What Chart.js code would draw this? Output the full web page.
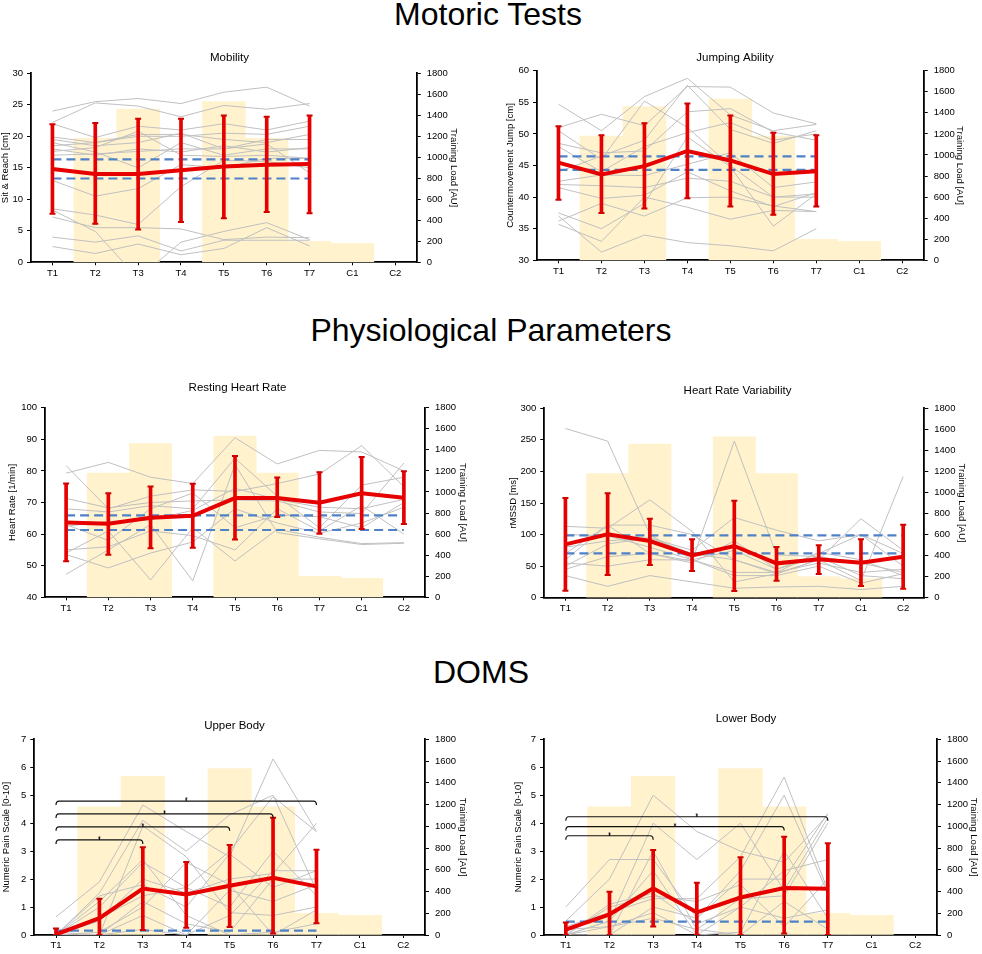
<!DOCTYPE html>
<html lang="en">
<head>
<meta charset="utf-8" />
<title>Motoric tests, physiological parameters and DOMS</title>
<script src="https://cdn.jsdelivr.net/npm/chart.js@4.4.1/dist/chart.umd.min.js"></script>
<style>
  html, body { margin: 0; padding: 0; background: #fff; }
  body { width: 982px; height: 954px; position: relative; overflow: hidden;
         font-family: "Liberation Sans", Arial, sans-serif; }
  .section { position: absolute; font-size: 32px; line-height: 32px; color: #000;
             white-space: nowrap; transform: translateX(-50%); }
  canvas { position: absolute; }
</style>
</head>
<body>
<div class="section" style="left:488px; top:-2px">Motoric Tests</div>
<div class="section" style="left:491px; top:314px">Physiological Parameters</div>
<div class="section" style="left:481px; top:656px">DOMS</div>

<canvas id="mobility"></canvas>
<canvas id="jumping"></canvas>
<canvas id="restingHr"></canvas>
<canvas id="hrv"></canvas>
<canvas id="upperBody"></canvas>
<canvas id="lowerBody"></canvas>

<script>
const labels = ["T1", "T2", "T3", "T4", "T5", "T6", "T7", "C1", "C2"];
const trainingLoad = [null, 1180, 1460, null, 1530, 1180, 200, 180, null];

// Mobility (sit & reach)
const mobMean = [14.8, 14.0, 14.0, 14.6, 15.2, 15.5, 15.6];
const mobHigh = [21.9, 22.1, 22.8, 22.8, 23.3, 23.1, 23.3];
const mobLow = [7.7, 6.1, 5.2, 6.4, 7.0, 8.0, 7.8];
const mobBand = [16.35, 13.3];
const mobSubjects = [
  [24.0, 25.5, 26.0, 25.2, 27.0, 27.8, 24.8],
  [22.2, 25.3, 24.8, 23.1, 24.9, 24.3, 25.2],
  [22.0, 19.8, 21.6, 21.0, 22.0, 21.0, 22.4],
  [19.9, 19.0, 20.0, 20.0, 20.5, 20.3, 21.6],
  [19.5, 18.5, 19.0, 20.5, 18.0, 19.5, 19.5],
  [19.0, 17.5, 15.0, 19.0, 17.0, 18.0, 18.0],
  [18.5, 19.0, 20.3, 20.3, 19.5, 19.0, 20.3],
  [18.0, 17.0, 18.0, 17.5, 18.5, 17.5, 18.2],
  [17.6, 18.2, 20.8, 17.0, 16.8, 17.0, 16.5],
  [17.0, 17.2, 17.6, 18.0, 18.0, 18.8, 14.2],
  [13.0, 10.5, 11.7, 15.5, 15.0, 16.5, 16.5],
  [8.5, 7.5, 6.0, 12.0, 16.2, 16.0, 15.0],
  [8.3, 4.9, -2.6, 3.2, 4.9, 6.3, 3.6],
  [7.2, 5.5, 5.5, 5.3, 3.6, 4.0, 3.9],
  [4.0, 3.2, 4.2, 1.8, 3.5, 3.5, 3.5],
  [2.5, 1.4, 2.9, 1.2, 2.2, 5.5, 2.6]
];

// Jumping ability (countermovement jump)
const jumpMean = [45.45, 43.6, 44.9, 47.3, 45.8, 43.65, 44.1];
const jumpHigh = [51.2, 49.8, 51.7, 54.8, 52.9, 50.2, 49.8];
const jumpLow = [39.6, 37.5, 38.2, 39.8, 38.5, 37.2, 38.5];
const jumpBand = [46.45, 44.3];
const jumpSubjects = [
  [54.7, 50.5, 55.9, 58.8, 53.0, 50.5, 51.5],
  [51.0, 53.1, 51.3, 57.5, 57.4, 53.3, 51.6],
  [50.5, 46.0, 55.2, 51.0, 45.0, 40.0, 40.5],
  [48.5, 47.0, 47.3, 53.5, 54.0, 50.3, 49.0],
  [48.0, 44.0, 48.0, 50.2, 51.8, 49.0, 50.0],
  [44.0, 46.5, 49.0, 57.7, 50.7, 48.5, 50.5],
  [42.5, 43.5, 43.4, 45.2, 47.0, 41.5, 42.4],
  [42.0, 41.8, 41.5, 43.0, 42.5, 40.0, 40.0],
  [41.5, 39.8, 40.3, 44.0, 41.0, 38.5, 40.7],
  [37.5, 35.0, 39.0, 49.5, 44.8, 35.4, 40.5],
  [36.2, 39.0, 37.0, 39.9, 40.0, 38.6, 37.7],
  [35.7, 33.0, 40.0, 38.4, 36.5, 37.9, 37.7],
  [37.0, 31.3, 34.0, 32.8, 32.3, 31.5, 35.0]
];

// Resting heart rate
const hrMean = [63.7, 63.3, 65.2, 65.8, 71.4, 71.4, 69.9, 72.9, 71.5];
const hrHigh = [76.0, 72.9, 75.1, 75.9, 84.7, 77.9, 79.6, 84.4, 79.9];
const hrLow = [51.4, 53.5, 55.5, 55.7, 58.3, 65.4, 60.1, 61.6, 63.2];
const hrBand = [65.9, 61.3];
const hrSubjects = [
  [79.3, 82.7, 78.0, 76.0, 90.5, 82.2, 86.5, 86.0, 80.0],
  [81.7, 68.0, 72.0, 74.0, 73.5, 76.0, 79.0, 88.0, 75.0],
  [71.3, 68.3, 70.0, 70.5, 70.8, 70.5, 67.0, 66.5, 82.5],
  [68.0, 67.0, 69.0, 68.0, 84.0, 72.0, 62.0, 75.5, 78.0],
  [62.5, 64.0, 64.5, 67.5, 74.5, 71.0, 68.5, 68.0, 71.0],
  [55.0, 56.0, 61.0, 59.5, 55.0, 68.0, 61.0, 69.0, 60.0],
  [54.0, 61.0, 45.5, 62.0, 51.5, 61.5, 59.0, 57.0, 57.3],
  [53.5, 49.3, 54.0, 57.5, 68.0, 63.5, 60.3, 63.5, 68.5],
  [47.3, 55.0, 63.0, 45.2, 82.0, 60.5, 58.5, 56.7, 57.1],
  [63.0, 58.0, 68.0, 73.0, 62.0, 66.0, 65.5, 62.0, 70.0]
];

// Heart rate variability (rMSSD)
const hrvMean = [84.5, 100.4, 89.8, 67.0, 81.9, 54.4, 60.7, 55.5, 65.0];
const hrvHigh = [158, 165.3, 125.2, 92.4, 153.7, 80.3, 83, 92.4, 115.7];
const hrvLow = [11.1, 35.9, 51.8, 42.3, 10.6, 26.9, 37.5, 18.5, 14.3];
const hrvBand = [98.8, 70.3];
const hrvSubjects = [
  [268, 248, 100, 60, 40, 40, 55, 40, 45],
  [35, 18, 35, 25, 15, 17, 18, 13, 18],
  [113, 110, 155, 105, 25, 38, 60, 125, 75],
  [70, 115, 70, 58, 248, 68, 65, 55, 40],
  [60, 115, 115, 100, 60, 38, 60, 27, 192],
  [50, 85, 95, 75, 127, 107, 90, 100, 70],
  [45, 65, 70, 55, 90, 45, 65, 35, 30],
  [80, 90, 95, 70, 60, 40, 72, 60, 35],
  [100, 98, 80, 60, 75, 45, 70, 100, 50],
  [55, 50, 60, 60, 35, 35, 50, 23, 38]
];

// DOMS upper body
const upMean = [0.02, 0.6, 1.66, 1.45, 1.76, 2.05, 1.74];
const upHigh = [0.23, 1.3, 3.14, 2.61, 3.22, 4.19, 3.05];
const upLow = [0, 0, 0.18, 0.26, 0.29, 0.05, 0.42];
const upBand = [0.155];
const upBrackets = [
  { from: "T1", to: "T3", level: 3.4 },
  { from: "T1", to: "T5", level: 3.87 },
  { from: "T1", to: "T6", level: 4.33 },
  { from: "T1", to: "T7", level: 4.79 }
];
const upSubjects = [
  [0.65, 1.9, 4.65, 3.7, 2.8, 6.3, 3.7],
  [0, 1.5, 4.1, 3.0, 4.3, 5.0, 1.6],
  [0, 1.0, 2.6, 1.7, 3.0, 4.95, 3.7],
  [0, 0.5, 2.0, 1.5, 2.0, 2.2, 4.0],
  [0, 1.4, 1.8, 1.0, 2.9, 1.7, 2.3],
  [0, 0, 3.9, 2.8, 0.8, 0.7, 1.0],
  [0, 0.6, 1.4, 1.7, 1.0, 3.0, 1.4],
  [0, 0, 0.7, 0, 0.7, 2.3, 2.3],
  [0, 1.2, 2.7, 0.7, 0, 0.1, 0.4],
  [0, 0.1, 1.0, 2.6, 1.8, 0, 0.9],
  [0, 0, 0.2, 0, 1.6, 1.2, 1.8],
  [0.1, 0, 1.2, 0.4, 0.1, 2.0, 2.0]
];

// DOMS lower body
const lowMean = [0.19, 0.74, 1.67, 0.81, 1.34, 1.68, 1.65];
const lowHigh = [0.45, 1.55, 3.04, 1.87, 2.78, 3.51, 3.28];
const lowLow = [0, 0, 0.3, 0, 0, 0.05, 0];
const lowBand = [0.48];
const lowBrackets = [
  { from: "T1", to: "T3", level: 3.55 },
  { from: "T1", to: "T6", level: 3.88 },
  { from: "T1", to: "T7", level: 4.23 }
];
const lowSubjects = [
  [1.0, 2.7, 2.7, 0.6, 2.3, 5.0, 1.5],
  [0.5, 2.0, 5.0, 3.7, 3.0, 2.6, 4.3],
  [0, 0.5, 4.0, 2.7, 4.0, 1.6, 4.2],
  [0, 1.1, 1.5, 0.4, 1.0, 2.3, 2.7],
  [0.3, 0.8, 1.3, 1.3, 2.8, 5.65, 1.6],
  [0, 0, 1.0, 0.6, 2.0, 2.0, 4.35],
  [0, 0.5, 2.3, 0, 0.1, 3.0, 0.6],
  [0, 1.0, 1.4, 1.2, 1.8, 0.3, 2.0],
  [0.2, 0.3, 0.8, 0, 1.0, 0.6, 0.9],
  [0, 0.3, 0.6, 0.2, 0, 1.2, 0.2],
  [0, 0, 3.0, 0.2, 1.3, 1.4, 4.0]
];

const RED = "#e60000";
const BLUE = "#4f81c7";
const GREY = "#c0c0c0";
const LOAD = "#fff2cc";
const FONT = '"Liberation Sans", Arial, sans-serif';

Chart.defaults.font.family = FONT;
Chart.defaults.color = "#000";

// significance brackets (T1 vs later time point) with an asterisk on top
const bracketPlugin = {
  id: "brackets",
  afterDatasetsDraw(chart, args, opts) {
    const items = opts.items || [];
    if (!items.length) return;
    const { ctx, scales: { x, y } } = chart;
    ctx.save();
    ctx.strokeStyle = "#111";
    ctx.fillStyle = "#111";
    ctx.lineWidth = 1.2;
    ctx.font = "8px " + FONT;
    ctx.textAlign = "center";
    ctx.textBaseline = "alphabetic";
    items.forEach(b => {
      const x1 = x.getPixelForValue(labels.indexOf(b.from));
      const x2 = x.getPixelForValue(labels.indexOf(b.to));
      const yy = y.getPixelForValue(b.level);
      const mid = (x1 + x2) / 2;
      ctx.beginPath();
      ctx.moveTo(x1, yy + 4);
      ctx.quadraticCurveTo(x1, yy, x1 + 3, yy);
      ctx.lineTo(x2 - 3, yy);
      ctx.quadraticCurveTo(x2, yy, x2, yy + 4);
      ctx.moveTo(mid, yy);
      ctx.lineTo(mid, yy - 2);
      ctx.stroke();
      ctx.fillText("*", mid, yy + 1);
    });
    ctx.restore();
  }
};

function drawPanel(id, p) {
  const canvas = document.getElementById(id);
  const left = Math.floor(p.yTitleX - 5.7);
  const right = Math.ceil(p.y1TitleX + 5.7);
  const top = Math.floor(p.titleY - 6.9 - 3);
  const bottom = Math.ceil(p.B + 22);
  canvas.width = right - left;
  canvas.height = bottom - top;
  canvas.style.left = left + "px";
  canvas.style.top = top + "px";

  const lw = p.L - left, rw = right - p.R, xh = bottom - p.B;
  const n = p.mean.length;
  const lastLabel = labels[n - 1];

  const datasets = [];
  datasets.push({
    type: "bar", data: trainingLoad, yAxisID: "y1", order: 6,
    backgroundColor: LOAD, barPercentage: 1, categoryPercentage: 1, grouped: false
  });
  p.subjects.forEach(s => datasets.push({
    type: "line", data: s, yAxisID: "y", order: 5,
    borderColor: GREY, borderWidth: 1, pointRadius: 0, tension: 0
  }));
  p.band.forEach(v => datasets.push({
    type: "line", yAxisID: "y", order: 4,
    data: [{ x: "T1", y: v }, { x: lastLabel, y: v }],
    borderColor: BLUE, borderWidth: 2.2, borderDash: [9, 5], pointRadius: 0
  }));
  datasets.push({
    type: "bar", yAxisID: "y", order: 3,
    data: p.low.map((v, i) => [v, p.high[i]]),
    backgroundColor: RED, barThickness: 3, grouped: false
  });
  datasets.push({
    type: "line", data: p.mean, yAxisID: "y", order: 2,
    borderColor: RED, borderWidth: 4, pointRadius: 0, tension: 0
  });
  [p.high, p.low].forEach(c => datasets.push({
    type: "line", data: c, yAxisID: "y", order: 1, showLine: false,
    pointStyle: "line", pointRadius: 3, pointBorderWidth: 2,
    borderColor: "#d00000", backgroundColor: "#d00000"
  }));

  const axisBorder = { display: true, color: "#000", width: 1.8 };
  const tickFont = { size: 9.5 };
  const axisTitleFont = { size: 9.5 };

  new Chart(canvas, {
    type: "bar",
    data: { labels: labels, datasets: datasets },
    options: {
      responsive: false,
      animation: false,
      layout: { padding: 0 },
      plugins: {
        legend: { display: false },
        tooltip: { enabled: false },
        title: {
          display: true, text: p.title, color: "#000",
          font: { size: 11.5, weight: "normal" },
          padding: { top: p.titleY - 6.9 - top, bottom: p.T - p.titleY - 6.9 }
        },
        brackets: { items: p.brackets || [] }
      },
      scales: {
        x: {
          offset: true,
          grid: { drawOnChartArea: false, offset: false, tickLength: 3, color: "#000" },
          border: axisBorder,
          ticks: { font: tickFont, padding: 2, maxRotation: 0 },
          afterFit: s => { s.height = xh; }
        },
        y: {
          position: "left", min: p.yMin, max: p.yMax,
          ticks: { stepSize: p.step, font: tickFont, padding: 4, callback: v => String(v) },
          grid: { drawOnChartArea: false, tickLength: 4, color: "#000" },
          border: axisBorder,
          title: { display: true, text: p.yTitle, color: "#000", font: axisTitleFont, padding: 0 },
          afterFit: s => { s.width = lw; }
        },
        y1: {
          position: "right", min: 0, max: 1800,
          ticks: { stepSize: 200, font: tickFont, padding: 6, callback: v => String(v) },
          grid: { drawOnChartArea: false, tickLength: 4, color: "#000" },
          border: axisBorder,
          title: { display: true, text: "Training Load [AU]", color: "#000", font: axisTitleFont, padding: 0 },
          afterFit: s => { s.width = rw; }
        }
      }
    },
    plugins: [bracketPlugin]
  });
}

drawPanel("mobility", {
  title: "Mobility", yTitle: "Sit & Reach [cm]",
  L: 31, T: 73.3, R: 416.7, B: 262.3, yTitleX: 6, y1TitleX: 453.3, titleY: 58,
  yMin: 0, yMax: 30, step: 5,
  mean: mobMean, high: mobHigh, low: mobLow, band: mobBand, subjects: mobSubjects
});
drawPanel("jumping", {
  title: "Jumping Ability", yTitle: "Countermovement Jump [cm]",
  L: 537, T: 70.7, R: 923.7, B: 260.3, yTitleX: 511, y1TitleX: 959.3, titleY: 58,
  yMin: 30, yMax: 60, step: 5,
  mean: jumpMean, high: jumpHigh, low: jumpLow, band: jumpBand, subjects: jumpSubjects
});
drawPanel("restingHr", {
  title: "Resting Heart Rate", yTitle: "Heart Rate [1/min]",
  L: 45, T: 407.7, R: 425, B: 597.3, yTitleX: 13, y1TitleX: 461.7, titleY: 388,
  yMin: 40, yMax: 100, step: 10,
  mean: hrMean, high: hrHigh, low: hrLow, band: hrBand, subjects: hrSubjects
});
drawPanel("hrv", {
  title: "Heart Rate Variability", yTitle: "rMSSD [ms]",
  L: 544.3, T: 408.3, R: 924.3, B: 597.7, yTitleX: 513.7, y1TitleX: 961, titleY: 391,
  yMin: 0, yMax: 300, step: 50,
  mean: hrvMean, high: hrvHigh, low: hrvLow, band: hrvBand, subjects: hrvSubjects
});
drawPanel("upperBody", {
  title: "Upper Body", yTitle: "Numeric Pain Scale [0-10]",
  L: 34.3, T: 739.3, R: 425, B: 935, yTitleX: 7.3, y1TitleX: 461.7, titleY: 726,
  yMin: 0, yMax: 7, step: 1,
  mean: upMean, high: upHigh, low: upLow, band: upBand, subjects: upSubjects, brackets: upBrackets
});
drawPanel("lowerBody", {
  title: "Lower Body", yTitle: "Numeric Pain Scale [0-10]",
  L: 544, T: 739.3, R: 937, B: 935, yTitleX: 519.3, y1TitleX: 973.3, titleY: 719,
  yMin: 0, yMax: 7, step: 1,
  mean: lowMean, high: lowHigh, low: lowLow, band: lowBand, subjects: lowSubjects, brackets: lowBrackets
});
</script>
</body>
</html>
